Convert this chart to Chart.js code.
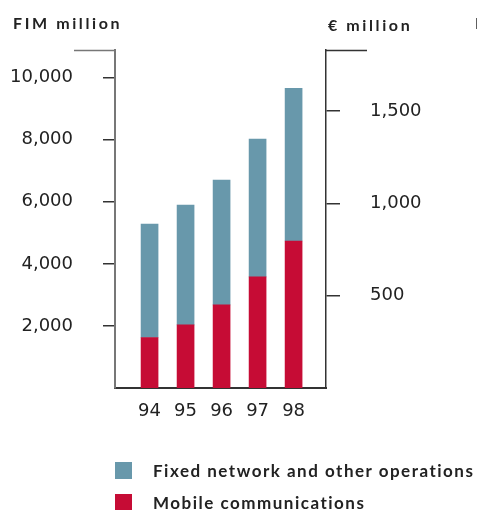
<!DOCTYPE html>
<html>
<head>
<meta charset="utf-8">
<script src="https://cdn.jsdelivr.net/npm/chart.js@4"></script>
<style>
    html, body { margin: 0; padding: 0; background: #fff; }
    body { width: 477px; height: 510px; overflow: hidden; position: relative; }
    #wrap { position: absolute; left: 0; top: 0; width: 477px; height: 510px; }
    .unit-title {
        position: absolute; font-family: Lato, sans-serif; font-weight: 700;
        font-size: 16px; letter-spacing: 2.6px; color: #222; line-height: 20px; white-space: nowrap;
    }
    .legend-row {
        position: absolute; left: 115px; height: 17px; display: flex; align-items: center;
        font-family: Lato, sans-serif; font-weight: 700; font-size: 17px;
        letter-spacing: 1.5px; color: #222; white-space: nowrap;
    }
    .legend-box { width: 17px; height: 17px; margin-right: 21px; }
</style>
</head>
<body>
<div id="wrap"><canvas id="chart"></canvas></div>
<div class="unit-title" style="left:13px; top:13px">FIM million</div>
<div class="unit-title" style="left:328px; top:15px">€ million</div>
<div class="unit-title" style="left:475px; top:13px">FIM million</div>
<div id="legend"></div>

<script>
// --- DATOS ---
const years = [94, 95, 96, 97, 98];
const mobileComms = [1627, 2035, 2678, 3579, 4736];
const fixedNetwork = [3656, 3859, 4020, 4437, 4920];
const fimTicks = [2000, 4000, 6000, 8000, 10000];
const euroTicks = [500, 1000, 1500];

const FIM_PER_EUR = 5.94573;
const FIM_MAX = 10890;

const COLOR_FIXED = '#6898ab';
const COLOR_MOBILE = '#c60c35';

// línea horizontal en la parte superior de cada eje
const axisCaps = {
    id: 'axisCaps',
    afterDraw(chart) {
        const ctx = chart.ctx;
        const y = chart.scales.y;
        const y1 = chart.scales.y1;
        ctx.save();
        ctx.lineWidth = 1.5;
        ctx.strokeStyle = '#777';
        ctx.beginPath();
        ctx.moveTo(74, y.top + 0.5);
        ctx.lineTo(y.right, y.top + 0.5);
        ctx.stroke();
        ctx.strokeStyle = '#333';
        ctx.beginPath();
        ctx.moveTo(y1.left, y1.top + 0.5);
        ctx.lineTo(y1.left + 41, y1.top + 0.5);
        ctx.stroke();
        ctx.restore();
    }
};

const fmt = v => Number(v).toLocaleString('en-US');

const chart = new Chart(document.getElementById('chart'), {
    type: 'bar',
    data: {
        datasets: [
            {
                label: 'Mobile communications',
                data: years.map((yr, i) => ({ x: yr, y: mobileComms[i] })),
                backgroundColor: COLOR_MOBILE,
                barThickness: 17
            },
            {
                label: 'Fixed network and other operations',
                data: years.map((yr, i) => ({ x: yr, y: fixedNetwork[i] })),
                backgroundColor: COLOR_FIXED,
                barThickness: 17
            }
        ]
    },
    options: {
        responsive: true,
        maintainAspectRatio: false,
        animation: false,
        devicePixelRatio: 1,
        locale: 'en-US',
        layout: { padding: { top: 50, left: 0, right: 0, bottom: 0 } },
        plugins: { legend: { display: false }, tooltip: { enabled: false } },
        scales: {
            x: {
                type: 'linear',
                stacked: true,
                offset: false,
                min: 93.04,
                max: 98.9,
                afterBuildTicks: s => { s.ticks = years.map(v => ({ value: v })); },
                afterFit: s => { s.height = 122; },
                grid: { display: false, drawTicks: false, offset: false },
                border: { display: true, color: '#333', width: 2 },
                ticks: {
                    padding: 13,
                    color: '#222',
                    font: { family: 'DejaVu Sans', size: 18 },
                    callback: v => String(v)
                }
            },
            y: {
                position: 'left',
                stacked: true,
                min: 0,
                max: FIM_MAX,
                afterBuildTicks: s => { s.ticks = fimTicks.map(v => ({ value: v })); },
                afterFit: s => { s.width = 115; },
                grid: { drawOnChartArea: false, drawTicks: true, tickLength: 12, color: '#333', lineWidth: 1.5 },
                border: { display: true, color: '#777', width: 2 },
                ticks: {
                    padding: 30,
                    color: '#222',
                    font: { family: 'DejaVu Sans', size: 18 },
                    callback: v => fmt(v)
                }
            },
            y1: {
                position: 'right',
                min: 0,
                max: FIM_MAX / FIM_PER_EUR,
                afterBuildTicks: s => { s.ticks = euroTicks.map(v => ({ value: v })); },
                afterFit: s => { s.width = 151; },
                grid: { drawOnChartArea: false, drawTicks: true, tickLength: 14, color: '#333', lineWidth: 1.5 },
                border: { display: true, color: '#333', width: 1.5 },
                ticks: {
                    padding: 30,
                    color: '#222',
                    font: { family: 'DejaVu Sans', size: 18 },
                    callback: v => fmt(v)
                }
            }
        }
    },
    plugins: [axisCaps]
});

// leyenda HTML construida desde los datasets (orden inverso: fijo arriba)
const legendTops = [462, 494];
document.getElementById('legend').innerHTML = chart.data.datasets.slice().reverse().map((ds, i) => `
    <div class="legend-row" style="top:${legendTops[i]}px">
        <span class="legend-box" style="background:${ds.backgroundColor}"></span>
        <span>${ds.label}</span>
    </div>
`).join('');
</script>
</body>
</html>
